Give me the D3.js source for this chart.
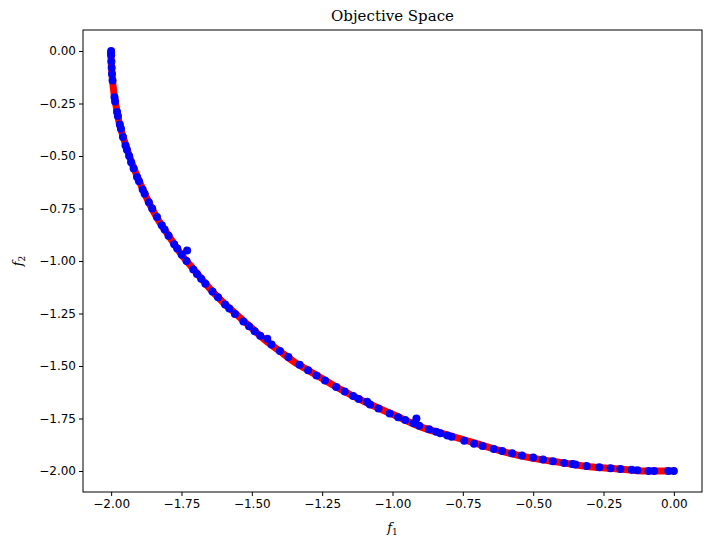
<!DOCTYPE html>
<html>
<head>
<meta charset="utf-8">
<script src="https://cdn.jsdelivr.net/npm/d3@7"></script>
<style>
  body { margin: 0; background: #fff; }
  text { font-family: "DejaVu Serif", serif; }
</style>
</head>
<body>
<svg id="chart" width="712" height="546"></svg>
<script>
// true front (red)
const frontF1 = [-2.00,-2.00,-1.995,-1.99,-1.98,-1.97,-1.95,-1.93,-1.90,-1.87,-1.83,-1.80,-1.75,-1.70,-1.65,-1.60,-1.55,-1.50,-1.45,-1.40,-1.35,-1.30,-1.25,-1.20,-1.10,-1.00,-0.90,-0.80,-0.70,-0.60,-0.50,-0.40,-0.30,-0.20,-0.10,-0.05,0.00];
const frontF2 = [0.00,-0.05,-0.14,-0.20,-0.28,-0.35,-0.44,-0.52,-0.62,-0.71,-0.81,-0.87,-0.97,-1.05,-1.13,-1.20,-1.26,-1.32,-1.38,-1.43,-1.48,-1.52,-1.56,-1.60,-1.67,-1.73,-1.79,-1.83,-1.87,-1.91,-1.94,-1.96,-1.98,-1.99,-2.00,-2.00,-2.00];

// obtained solutions (blue)
const solF1 = [-2.00,-2.00,-2.00,-1.999,-1.998,-1.997,-1.995,-1.988,-1.986,-1.979,-1.976,-1.969,-1.965,-1.958,-1.949,-1.944,-1.936,-1.929,-1.920,-1.908,-1.901,-1.888,-1.881,-1.866,-1.854,-1.837,-1.820,-1.810,-1.796,-1.776,-1.765,-1.73,-1.749,-1.732,-1.708,-1.695,-1.68,-1.665,-1.64,-1.62,-1.595,-1.58,-1.56,-1.53,-1.51,-1.49,-1.47,-1.445,-1.43,-1.40,-1.37,-1.33,-1.30,-1.27,-1.24,-1.20,-1.17,-1.14,-1.12,-1.08,-1.09,-1.05,-1.01,-0.98,-0.955,-0.925,-0.915,-0.905,-0.87,-0.845,-0.83,-0.805,-0.79,-0.745,-0.71,-0.68,-0.64,-0.61,-0.575,-0.54,-0.50,-0.465,-0.43,-0.39,-0.36,-0.35,-0.31,-0.265,-0.225,-0.19,-0.15,-0.13,-0.09,-0.07,-0.02,0.00];
const solF2 = [0.00,-0.01,-0.02,-0.05,-0.08,-0.11,-0.14,-0.22,-0.24,-0.29,-0.31,-0.35,-0.37,-0.41,-0.45,-0.47,-0.50,-0.53,-0.56,-0.60,-0.62,-0.66,-0.68,-0.72,-0.75,-0.79,-0.83,-0.85,-0.88,-0.92,-0.94,-0.95,-0.97,-1.00,-1.04,-1.062,-1.085,-1.108,-1.145,-1.173,-1.207,-1.226,-1.252,-1.288,-1.311,-1.334,-1.356,-1.37,-1.398,-1.428,-1.457,-1.494,-1.520,-1.545,-1.569,-1.600,-1.622,-1.643,-1.657,-1.683,-1.67,-1.702,-1.726,-1.744,-1.757,-1.773,-1.75,-1.784,-1.801,-1.813,-1.820,-1.831,-1.837,-1.856,-1.870,-1.881,-1.895,-1.905,-1.915,-1.926,-1.936,-1.945,-1.953,-1.962,-1.967,-1.969,-1.976,-1.982,-1.987,-1.991,-1.994,-1.996,-2.00,-2.00,-2.00,-2.00];

const ticks = [-2.0,-1.75,-1.5,-1.25,-1.0,-0.75,-0.5,-0.25,0.0];

const margin = {top: 30, right: 10, bottom: 54, left: 83};
const width = 712 - margin.left - margin.right;
const height = 546 - margin.top - margin.bottom;

const svg = d3.select("#chart");
const g = svg.append("g").attr("transform", "translate(" + margin.left + "," + margin.top + ")");

const x = d3.scaleLinear().domain([-2.1, 0.1]).range([0, width]);
const y = d3.scaleLinear().domain([-2.1, 0.1]).range([height, 0]);

// red front
const front = frontF1.map((v, i) => [v, frontF2[i]]);
g.append("path")
  .datum(front)
  .attr("fill", "none")
  .attr("stroke", "red")
  .attr("stroke-width", 7)
  .attr("d", d3.line().x(d => x(d[0])).y(d => y(d[1])).curve(d3.curveCatmullRom));

// blue points
g.append("g").selectAll("circle")
  .data(solF1.map((v, i) => [v, solF2[i]]))
  .enter().append("circle")
  .attr("cx", d => x(d[0]))
  .attr("cy", d => y(d[1]))
  .attr("r", 4)
  .attr("fill", "blue");

const fmt = d3.format(".2f");
const xa = g.append("g").attr("transform", "translate(0," + height + ")")
  .call(d3.axisBottom(x).tickValues(ticks).tickFormat(d => fmt(d).replace("-", "\u2212")).tickSizeOuter(0).tickSize(4));
const ya = g.append("g")
  .call(d3.axisLeft(y).tickValues(ticks).tickFormat(d => fmt(d).replace("-", "\u2212")).tickSizeOuter(0).tickSize(4));
[xa, ya].forEach(a => {
  a.selectAll("text").style("font-family", "DejaVu Sans, sans-serif").style("font-size", "12px").attr("fill", "#000");
  a.selectAll("line").attr("stroke", "#000");
  a.select(".domain").remove();
});

g.append("rect").attr("width", width).attr("height", height)
  .attr("fill", "none").attr("stroke", "#000").attr("stroke-width", 1);

svg.append("text").attr("x", margin.left + width / 2).attr("y", 21)
  .attr("text-anchor", "middle").style("font-size", "15px").text("Objective Space");

const xl = svg.append("text").attr("x", margin.left + width / 2).attr("y", 532)
  .attr("text-anchor", "middle").style("font-size", "13px").style("font-style", "italic");
xl.append("tspan").text("f");
xl.append("tspan").attr("dy", 3).style("font-size", "9px").style("font-style", "normal").text("1");

const yl = svg.append("text").attr("transform", "translate(22," + (margin.top + height / 2) + ") rotate(-90)")
  .attr("text-anchor", "middle").style("font-size", "13px").style("font-style", "italic");
yl.append("tspan").text("f");
yl.append("tspan").attr("dy", 3).style("font-size", "9px").style("font-style", "normal").text("2");
</script>
</body>
</html>
